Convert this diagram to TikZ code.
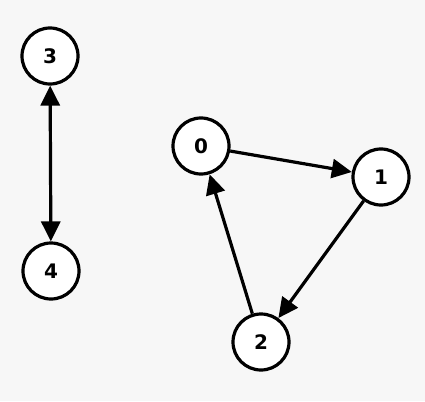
\documentclass[tikz,border=0pt]{standalone}
\usepackage{fontspec}
\setsansfont{DejaVu Sans}
\usepackage{xcolor}
\usetikzlibrary{arrows.meta}
\definecolor{bgray}{HTML}{F7F7F7}

\begin{document}
\begin{tikzpicture}[
  x=1pt, y=-1pt,
  vertex/.style={circle, draw=black, line width=3.2pt, fill=white,
    minimum size=56pt, inner sep=0pt,
    font=\sffamily\bfseries\fontsize{20}{20}\selectfont},
  arr/.style={-{Triangle[length=20pt, width=19pt]}, line width=3.2pt, black}
]
\fill[bgray] (0,0) rectangle (425,401);
\useasboundingbox (0,0) rectangle (425,401);

\node[vertex] (v3) at (50,56) {3};
\node[vertex] (v4) at (51,271) {4};
\node[vertex] (v0) at (201,146) {0};
\node[vertex] (v1) at (381,177) {1};
\node[vertex] (v2) at (261,342) {2};

\draw[arr] (v0) -- (v1);
\draw[arr] (v1) -- (v2);
\draw[arr] (v2) -- (v0);
\draw[arr, {Triangle[length=20pt, width=19pt]}-{Triangle[length=20pt, width=19pt]}] (v3) -- (v4);
\end{tikzpicture}
\end{document}
